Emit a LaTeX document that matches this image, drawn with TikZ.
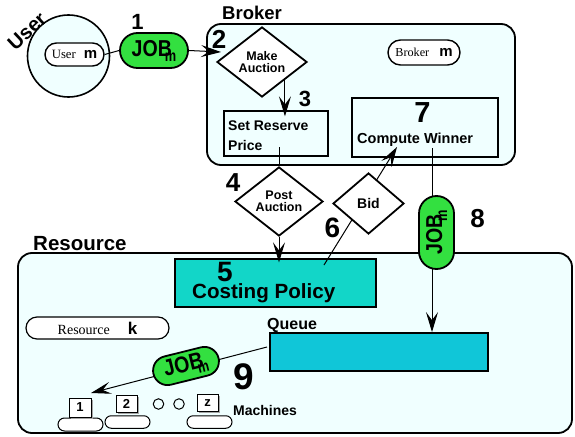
\documentclass[tikz,border=0pt]{standalone}
\usepackage{fontspec}
\setmainfont{Liberation Serif}
\setsansfont{Liberation Sans}
\usetikzlibrary{shapes.geometric,shapes.misc,arrows.meta,calc,shadows}

\definecolor{panelfill}{RGB}{240,255,255}
\definecolor{jobgreen}{RGB}{51,224,64}
\definecolor{costfill}{RGB}{18,214,200}
\definecolor{queuefill}{RGB}{16,198,216}

\newcommand\fsz[1]{\fontsize{#1}{#1}\selectfont}
\newcommand\jobtext{\scalebox{0.85}[1]{\fsz{23}JOB}\hspace{-7pt}\raisebox{-5pt}{\scalebox{0.8}[1]{\fsz{16}m}}}

\begin{document}
\begin{tikzpicture}[x=1pt,y=-1pt,
  panel/.style={draw, line width=1.8pt, fill=panelfill, rounded corners=14pt, inner sep=0pt},
  lbl/.style={font=\sffamily\bfseries, inner sep=0pt},
  pill/.style={rounded rectangle, draw, line width=1.4pt, fill=white, inner sep=0pt},
  jobpill/.style={pill, line width=1.8pt, fill=jobgreen, minimum width=68pt, minimum height=35pt, font=\sffamily\bfseries},
  dia/.style={diamond, draw, line width=1.8pt, fill=white, inner sep=0pt, aspect=1.3,
              font=\sffamily\bfseries\fsz{12.5}, align=center},
  box/.style={draw, line width=1.3pt, inner sep=0pt},
  mbox/.style={draw, line width=1pt, fill=white, minimum width=21pt, minimum height=17pt,
               inner sep=0pt, font=\sffamily\bfseries\fsz{13},
               drop shadow={shadow xshift=1.8pt, shadow yshift=-1.8pt, fill=gray!70, opacity=1}},
  mbase/.style={pill, line width=1pt, minimum width=45pt, minimum height=12.5pt},
  arr/.style={-{Stealth[length=20pt,width=12pt,inset=8pt]}, line width=1pt},
  link/.style={line width=1pt}
]
\useasboundingbox (0,0) rectangle (575,436);

% ---------- containers ----------
\node[panel, minimum width=308pt, minimum height=141pt] (broker) at (361,94.5) {};
\node[panel, minimum width=554pt, minimum height=180pt] (resource) at (295,343) {};
\node[circle, draw, line width=1.6pt, fill=panelfill, minimum size=82pt, inner sep=0pt] (user) at (68.5,56) {};

\node[lbl, rotate=43, font=\sffamily\bfseries\fsz{20}] (userlbl) at (27,31) {User};
\node[lbl, anchor=base west, font=\sffamily\bfseries\fsz{18.5}] (brokerlbl) at (222,20) {Broker};
\node[lbl, anchor=base west, font=\sffamily\bfseries\fsz{20.5}] (resourcelbl) at (33,250) {Resource};

% ---------- user side ----------
\node[pill, minimum width=59pt, minimum height=23pt] (usertag) at (74.5,54.5)
  {\rmfamily\fsz{12.7}User\hspace{8pt}\sffamily\bfseries\fsz{15}m};
\node[jobpill] (job1) at (154,50.5) {\jobtext};
\node[lbl, font=\sffamily\bfseries\fsz{22}] (n1) at (137.5,22) {1};
\draw[link] (usertag.east) -- (job1.west);
\coordinate (brokin) at (221,52);
\draw[arr] (job1.east) -- (brokin);
\node[lbl, font=\sffamily\bfseries\fsz{26}] (n2) at (219,39) {2};

% ---------- broker ----------
\node[dia, minimum width=90pt, minimum height=70pt] (makeauc) at (262,62) {Make\\[-1pt]Auction};
\node[box, minimum width=104pt, minimum height=45pt] (reserve) at (276,133.5) {};
\node[lbl, anchor=base west, font=\sffamily\bfseries\fsz{14}] (restxt1) at (228,130) {Set Reserve};
\node[lbl, anchor=base west, font=\sffamily\bfseries\fsz{14}] (restxt2) at (228,150) {Price};
\draw[arr, shorten >=-6pt] (makeauc.south east) -- (makeauc.south east |- reserve.north);
\node[lbl, font=\sffamily\bfseries\fsz{22}] (n3) at (305,99) {3};

\node[pill, minimum width=72pt, minimum height=25pt] (brokertag) at (424,52.5)
  {\rmfamily\fsz{12.2}Broker\hspace{10pt}\sffamily\bfseries\fsz{15}m};

\node[box, line width=1.5pt, minimum width=146pt, minimum height=59pt] (winner) at (425,127.5) {};
\node[lbl, font=\sffamily\bfseries\fsz{29}] (n7) at (422.5,112.5) {7};
\node[lbl, anchor=base west, font=\sffamily\bfseries\fsz{14.5}] (wintxt) at (357,143) {Compute Winner};

% ---------- resource ----------
\node[box, fill=costfill, minimum width=201pt, minimum height=48pt] (costing) at (275.5,283) {};
\node[lbl, font=\sffamily\bfseries\fsz{28}] (n5) at (225,272) {5};
\node[lbl, anchor=base west, font=\sffamily\bfseries\fsz{20.6}] (costtxt) at (192,298) {Costing Policy};

\node[box, line width=1.8pt, fill=queuefill, minimum width=218pt, minimum height=38pt] (queue) at (379,352) {};
\node[lbl, anchor=base west, font=\sffamily\bfseries\fsz{16}] (queuelbl) at (267,329.5) {Queue};

\node[pill, line width=1.2pt, minimum width=143pt, minimum height=22pt] (restag) at (97.5,328)
  {\rmfamily\fsz{14}Resource\hspace{18pt}\sffamily\bfseries\fsz{17}k\hspace{13pt}};

% post auction step
\coordinate (resfoot) at (279,147);
\node[dia, minimum width=88pt, minimum height=69pt] (postauc) at (279,201.5) {Post\\[-1pt]Auction};
\draw[link] (resfoot) -- (postauc.north);
\draw[arr, shorten >=-4pt] (postauc.south) -- (postauc.south |- costing.north);
\node[lbl, font=\sffamily\bfseries\fsz{26}] (n4) at (233,182.5) {4};

% bid goes from the costing policy up to the winner computation
\coordinate (bidfoot) at (324,265);
\coordinate (bidtip) at (397,147);
\draw[arr] (bidfoot) -- (bidtip);
\node[dia, minimum width=71pt, minimum height=61pt, font=\sffamily\bfseries\fsz{14}] (bid) at (368.5,203.5) {Bid};
\node[lbl, font=\sffamily\bfseries\fsz{28}] (n6) at (332.5,228) {6};

% winning job is sent to the queue
\coordinate (winfoot) at (432,148);
\draw[arr] (winfoot) -- (queue.north -| winfoot);
\node[jobpill, minimum width=73pt, rotate=90] (job2) at (436.5,232.5) {\jobtext};
\node[lbl, font=\sffamily\bfseries\fsz{26}] (n8) at (477.5,218.5) {8};

% ---------- machines ----------
\node[mbase, minimum height=13pt] (base1) at (80.5,424.5) {};
\node[mbox, minimum width=22pt, minimum height=19pt] (mach1) at (80,407.5) {1};
\node[mbase] (base2) at (127.5,422) {};
\node[mbox] (mach2) at (126.5,404) {2};
\node[circle, draw, line width=1pt, minimum size=10.5pt, inner sep=0pt] (dot1) at (158.5,404) {};
\node[circle, draw, line width=1pt, minimum size=10.5pt, inner sep=0pt] (dot2) at (179,404) {};
\node[mbase] (basez) at (209.5,422) {};
\node[mbox] (machz) at (207.5,403) {z};
\node[lbl, anchor=base west, font=\sffamily\bfseries\fsz{14}] (machlbl) at (233,415) {Machines};

% dispatch from the queue to a machine
\coordinate (qout) at (267,347);
\coordinate (mtip) at (91,393);
\draw[arr] (qout) -- (mtip);
\node[jobpill, minimum width=67pt, minimum height=29pt, rotate=14] (job3) at (186,366) {\jobtext};
\node[lbl, font=\sffamily\bfseries\fsz{37}] (n9) at (244,376.5) {9};

\end{tikzpicture}
\end{document}
